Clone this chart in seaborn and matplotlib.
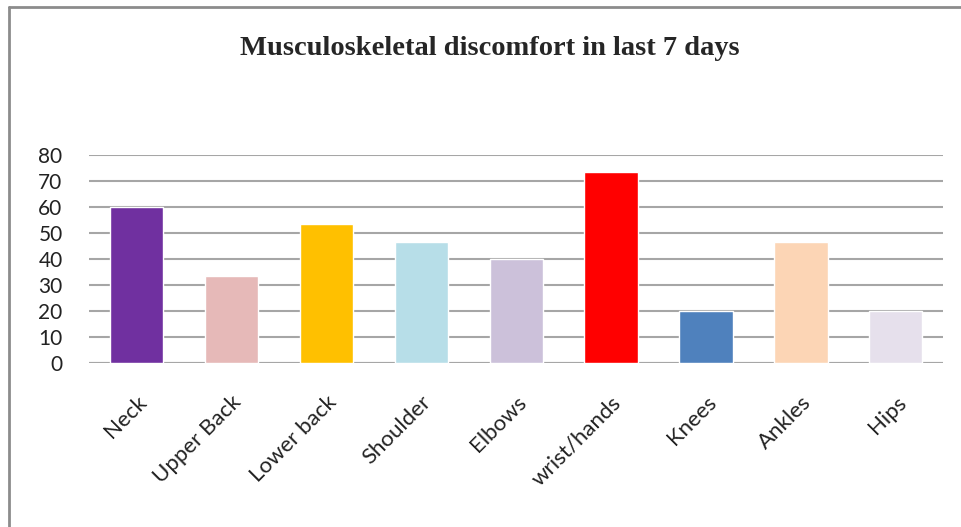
import pandas as pd
import matplotlib.pyplot as plt
import seaborn as sns
from matplotlib.lines import Line2D

regions = ['Neck', 'Upper Back', 'Lower back', 'Shoulder', 'Elbows',
           'wrist/hands', 'Knees', 'Ankles', 'Hips']
percent = [60, 33.3, 53.3, 46.7, 40, 73.3, 20, 46.7, 20]
colors = ['#7030A0', '#E6B9B8', '#FFC000', '#B7DEE8', '#CCC1DA',
          '#FF0000', '#4F81BD', '#FCD5B5', '#E6E0EC']
yticks = [0, 10, 20, 30, 40, 50, 60, 70, 80]

data = pd.DataFrame({'region': regions, 'percent': percent})

sns.set_style('white')
plt.rcParams['font.family'] = ['Lato', 'DejaVu Sans']

fig = plt.figure(figsize=(9.61, 5.27), dpi=100)
ax = fig.add_axes([0.0926, 0.311, 0.889, 0.395])

sns.barplot(data=data, x='region', y='percent', hue='region',
            palette=colors, legend=False, width=0.56, ax=ax, saturation=1)

ax.set_ylim(0, 80)
ax.set_yticks(yticks)
ax.yaxis.grid(True, color='#A6A6A6', linewidth=1.5)
ax.set_axisbelow(True)
for s in ax.spines.values():
    s.set_visible(False)
ax.axhline(0, color='#A6A6A6', linewidth=1.5, zorder=0)
ax.set_xlabel('')
ax.set_ylabel('')
ax.tick_params(axis='both', length=0, colors='#222222')
ax.tick_params(axis='y', pad=19, labelsize=15)
ax.tick_params(axis='x', pad=21, labelsize=16)
plt.setp(ax.get_xticklabels(), rotation=45, ha='right', rotation_mode='anchor')

fig.text(0.51, 0.908, 'Musculoskeletal discomfort in last 7 days',
         ha='center', va='center', fontsize=20.5, fontweight='bold',
         family='Liberation Serif')

# frame around the chart area
fig.add_artist(Line2D([0.009, 0.009], [0, 0.987], transform=fig.transFigure,
                      color='#8C8C8C', linewidth=2))
fig.add_artist(Line2D([0.009, 1], [0.987, 0.987], transform=fig.transFigure,
                      color='#8C8C8C', linewidth=2))

plt.savefig('out.png', dpi=100)
